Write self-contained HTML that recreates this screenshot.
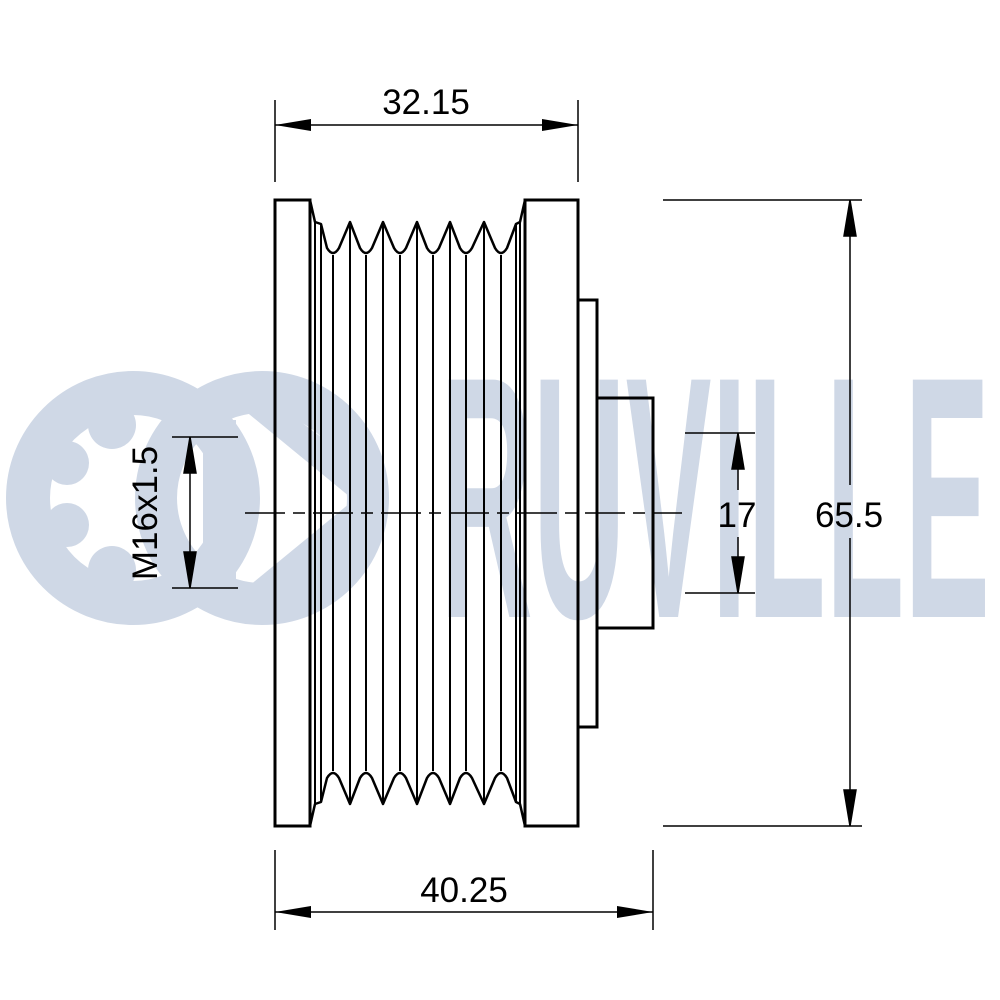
<!DOCTYPE html>
<html><head><style>
html,body{margin:0;padding:0;background:#fff;}
svg{display:block;}
text{font-family:"Liberation Sans",Arial,sans-serif;}
</style></head><body>
<svg width="1000" height="1000" viewBox="0 0 1000 1000" xmlns="http://www.w3.org/2000/svg">
<defs>
<marker id="b" markerWidth="36" markerHeight="12" refX="36" refY="6" orient="auto-start-reverse" markerUnits="userSpaceOnUse">
<path d="M0,0 L36,6 L0,12 Z" fill="#000"/>
</marker>
</defs>
<!-- watermark -->
<g fill="#cfd8e6" stroke="none">
<circle cx="133" cy="498" r="105" fill="none" stroke="#cfd8e6" stroke-width="44"/>
<circle cx="67" cy="463" r="22"/>
<circle cx="67" cy="525" r="22"/>
<circle cx="112" cy="425" r="24"/>
<circle cx="112" cy="570" r="24"/>
<circle cx="262" cy="498" r="106" fill="none" stroke="#cfd8e6" stroke-width="42"/>
<rect x="203" y="420" width="33" height="180"/>
<polygon points="238,405 265,395 385,485 372,515"/>
<polygon points="238,595 265,605 385,515 372,485"/>
<text x="440" y="617" font-size="345" font-weight="bold" textLength="550" lengthAdjust="spacingAndGlyphs" fill="#cfd8e6">RUVILLE</text>
</g>
<g fill="none" stroke="#000" stroke-width="3">
<rect x="275" y="200" width="35" height="626"/>
<rect x="525" y="200" width="53" height="626"/>
<rect x="578" y="300" width="19" height="427"/>
<rect x="597" y="398" width="56" height="230"/>
</g>
<g fill="none" stroke="#000" stroke-width="2.5" stroke-linejoin="round">
<path d="M310,200 L315,222 L321,224 L327,248 Q333,258 339,248 L350,222 L360,248 Q366,258 372,248 L383,222 L394,248 Q400,258 406,248 L417,222 L427,248 Q433,258 439,248 L450,222 L460,248 Q466,258 472,248 L484,222 L495,248 Q501,258 507,248 L516,224 L520,222 L525,200"/>
<path d="M310,826 L315,804 L321,802 L327,778 Q333,768 339,778 L350,804 L360,778 Q366,768 372,778 L383,804 L394,778 Q400,768 406,778 L417,804 L427,778 Q433,768 439,778 L450,804 L460,778 Q466,768 472,778 L484,804 L495,778 Q501,768 507,778 L516,802 L520,804 L525,826"/>
</g>
<g stroke="#000" stroke-width="2">
<line x1="315" y1="222" x2="315" y2="804"/>
<line x1="321" y1="224" x2="321" y2="802"/>
<line x1="333" y1="255" x2="333" y2="771"/>
<line x1="350" y1="222" x2="350" y2="804"/>
<line x1="366" y1="255" x2="366" y2="771"/>
<line x1="383" y1="222" x2="383" y2="804"/>
<line x1="400" y1="255" x2="400" y2="771"/>
<line x1="417" y1="222" x2="417" y2="804"/>
<line x1="433" y1="255" x2="433" y2="771"/>
<line x1="450" y1="222" x2="450" y2="804"/>
<line x1="466" y1="255" x2="466" y2="771"/>
<line x1="484" y1="222" x2="484" y2="804"/>
<line x1="501" y1="255" x2="501" y2="771"/>
<line x1="516" y1="224" x2="516" y2="802"/>
<line x1="520" y1="222" x2="520" y2="804"/>
</g>
<line x1="245" y1="513" x2="682" y2="513" stroke="#000" stroke-width="1.5" stroke-dasharray="40,8,12,8"/>
<g stroke="#000" stroke-width="1.5" fill="none">
<line x1="275" y1="100" x2="275" y2="182"/>
<line x1="578" y1="100" x2="578" y2="182"/>
<line x1="275" y1="125" x2="578" y2="125" marker-start="url(#b)" marker-end="url(#b)"/>
<line x1="275" y1="850" x2="275" y2="930"/>
<line x1="653" y1="850" x2="653" y2="930"/>
<line x1="275" y1="912" x2="653" y2="912" marker-start="url(#b)" marker-end="url(#b)"/>
<line x1="663" y1="200" x2="862" y2="200"/>
<line x1="663" y1="826" x2="862" y2="826"/>
<line x1="850" y1="200" x2="850" y2="485"/>
<line x1="850" y1="538" x2="850" y2="826"/>
<path d="M850,200 L844,236 L856,236 Z M850,826 L844,790 L856,790 Z" fill="#000"/>
<line x1="685" y1="433" x2="755" y2="433"/>
<line x1="685" y1="593" x2="755" y2="593"/>
<line x1="738" y1="433" x2="738" y2="490"/>
<line x1="738" y1="537" x2="738" y2="593"/>
<path d="M738,433 L732,469 L744,469 Z M738,593 L732,557 L744,557 Z" fill="#000"/>
<line x1="172" y1="437" x2="238" y2="437"/>
<line x1="172" y1="588" x2="238" y2="588"/>
<line x1="190" y1="437" x2="190" y2="588"/>
<path d="M190,437 L184,473 L196,473 Z M190,588 L184,552 L196,552 Z" fill="#000"/>
</g>
<g font-size="35" fill="#000">
<text x="426" y="114" text-anchor="middle">32.15</text>
<text x="464" y="902" text-anchor="middle">40.25</text>
<text x="849" y="527" text-anchor="middle">65.5</text>
<text x="737" y="527" text-anchor="middle">17</text>
<text transform="translate(157,513) rotate(-90)" text-anchor="middle">M16x1.5</text>
</g>
</svg>
</body></html>
